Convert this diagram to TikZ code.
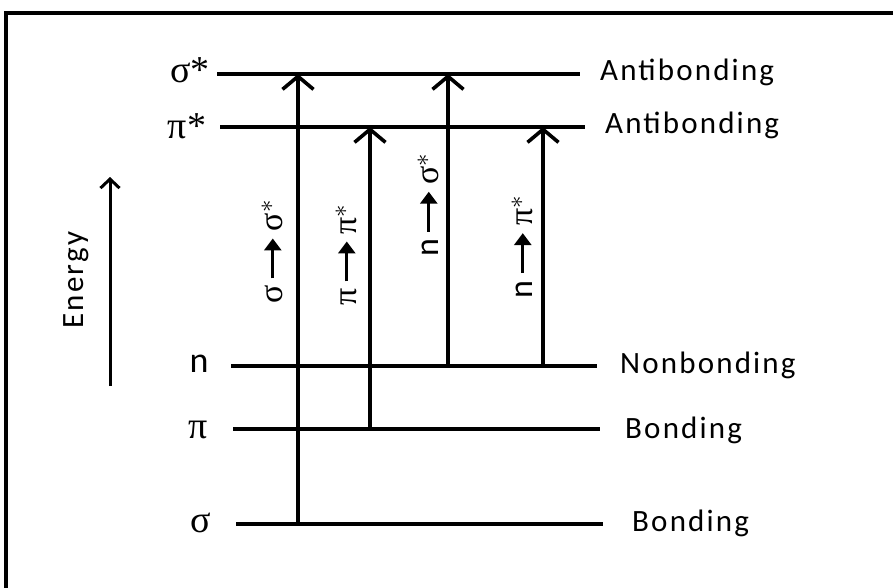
\documentclass[tikz,border=0pt]{standalone}
\usepackage{fontspec}
\setmainfont{Carlito}[LetterSpace=7]
\newfontfamily\grk{Liberation Serif}
\newfontfamily\plainsans{Carlito}
\usetikzlibrary{arrows.meta}
\tikzset{
  level/.style={line width=3.6pt},
  trans/.style={line width=3.6pt,-{Straight Barb[length=13pt,width=31pt,line width=3.6pt]}},
  lab/.style={font=\fontsize{31}{33}\selectfont, inner sep=0pt},
  glab/.style={font=\grk\fontsize{38}{40}\selectfont, inner sep=0pt},
  tlab/.style={font=\grk\fontsize{34}{36}\selectfont, inner sep=0pt, rotate=90},
}
\newcommand{\tarr}{\,\tikz[baseline=-0.6ex]\draw[line width=3pt,-{Triangle[length=12pt,width=17pt]}] (0,0)--(40pt,0);\,}
\begin{document}
\begin{tikzpicture}[x=1pt,y=-1pt]
\useasboundingbox (0,0) rectangle (893,587);
\draw[line width=3.5pt] (6,600) -- (6,13) -- (900,13);
% levels
\coordinate (ss1) at (217,74);  \coordinate (ss2) at (580,74);
\coordinate (ps1) at (220,127); \coordinate (ps2) at (585,127);
\coordinate (n1) at (231,366);  \coordinate (n2) at (597,366);
\coordinate (p1) at (233,429);  \coordinate (p2) at (600,429);
\coordinate (s1) at (236,524);  \coordinate (s2) at (603,524);
\draw[level] (ss1) -- (ss2);
\draw[level] (ps1) -- (ps2);
\draw[level] (n1) -- (n2);
\draw[level] (p1) -- (p2);
\draw[level] (s1) -- (s2);
% left labels
\node[glab] (lss) at (190,70) {σ*};
\node[glab] (lps) at (187,126) {π*};
\node[lab,font=\plainsans\fontsize{36}{38}\selectfont] (ln) at (199,364) {n};
\node[glab] (lp) at (198,430) {π};
\node[glab] (ls) at (201,523) {σ};
% right labels
\node[lab,anchor=west] (rss) at (600,72) {Antibonding};
\node[lab,anchor=west] (rps) at (605,125) {Antibonding};
\node[lab,anchor=west] (rn) at (620,365) {Nonbonding};
\node[lab,anchor=west] (rp) at (625,430) {Bonding};
\node[lab,anchor=west] (rs) at (632,523) {Bonding};
% transitions
\coordinate (a1) at (298,524); \coordinate (b1) at (298,74);
\coordinate (a2) at (370,429); \coordinate (b2) at (370,127);
\coordinate (a3) at (448,366); \coordinate (b3) at (448,74);
\coordinate (a4) at (543,366); \coordinate (b4) at (543,127);
\draw[trans] (a1) -- (b1);
\draw[trans] (a2) -- (b2);
\draw[trans] (a3) -- (b3);
\draw[trans] (a4) -- (b4);
\node[tlab] (t1) at (272,252) {σ\tarr σ$^{*}$};
\node[tlab] (t2) at (346,255) {π\tarr π$^{*}$};
\node[tlab] (t3) at (428,205) {{\plainsans n}\tarr σ$^{*}$};
\node[tlab] (t4) at (522,247) {{\plainsans n}\tarr π$^{*}$};
% energy
\coordinate (e1) at (110,386); \coordinate (e2) at (110,177);
\draw[line width=3pt,-{Straight Barb[length=9pt,width=19pt,line width=3pt]}] (e1) -- (e2);
\node[lab,rotate=90] (en) at (76,280) {Energy};
\end{tikzpicture}
\end{document}
